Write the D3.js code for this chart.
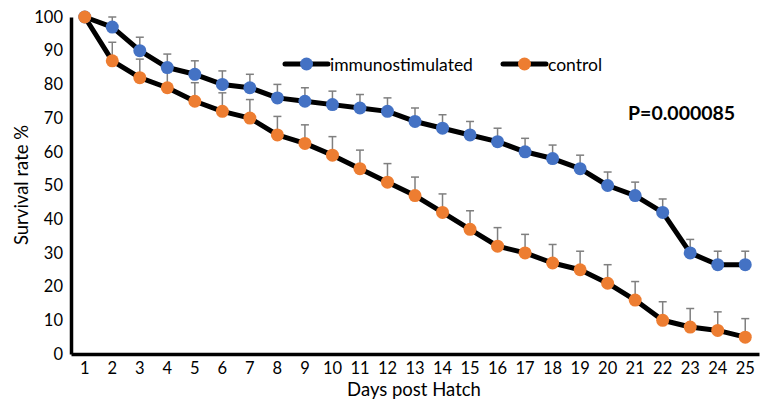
<!DOCTYPE html>
<html>
<head>
<meta charset="utf-8">
<script src="https://cdn.jsdelivr.net/npm/d3@7"></script>
<style>
  body { margin: 0; background: #fff; }
  text { font-family: Lato, "Open Sans", sans-serif; fill: #000; }
</style>
</head>
<body>
<script>
// data
var days = ["1","2","3","4","5","6","7","8","9","10","11","12","13","14","15","16","17","18","19","20","21","22","23","24","25"];
var immuno = [100, 97, 90, 85, 83, 80, 79, 76, 75, 74, 73, 72, 69, 67, 65, 63, 60, 58, 55, 50, 47, 42, 30, 26.5, 26.5];
var immunoErr = [0, 3, 4, 4, 4, 4, 4, 4, 4, 4, 4, 4, 4, 4, 4, 4, 4, 4, 4, 4, 4, 4, 4, 4, 4];
var control = [100, 87, 82, 79, 75, 72, 70, 65, 62.5, 59, 55, 51, 47, 42, 37, 32, 30, 27, 25, 21, 16, 10, 8, 7, 5];
var controlErr = [0, 5.5, 5.5, 5.5, 5.5, 5.5, 5.5, 5.5, 5.5, 5.5, 5.5, 5.5, 5.5, 5.5, 5.5, 5.5, 5.5, 5.5, 5.5, 5.5, 5.5, 5.5, 5.5, 5.5, 5.5];
var yTicks = [0, 10, 20, 30, 40, 50, 60, 70, 80, 90, 100];

var width = 762, height = 402;
var margin = { left: 71, right: 3, top: 17, bottom: 48 };

var svg = d3.select("body").append("svg")
            .attr("width", width)
            .attr("height", height);

var x = d3.scaleBand().domain(days).range([margin.left, width - margin.right]);
var y = d3.scaleLinear().domain([0, 100]).range([height - margin.bottom, margin.top]);

var series = [
    { name: "immunostimulated", values: immuno, err: immunoErr, color: "#4472C4" },
    { name: "control", values: control, err: controlErr, color: "#ED7D31" }
];

// axes
var yAxis = svg.append("g")
   .attr("transform", "translate(" + margin.left + ",0)")
   .call(d3.axisLeft(y).tickValues(yTicks).tickSize(0).tickPadding(8));
yAxis.select(".domain").attr("stroke", "#000").attr("stroke-width", 3.5);
yAxis.selectAll("text").attr("font-size", 16.5);

var xAxis = svg.append("g")
   .attr("transform", "translate(0," + y(0) + ")")
   .call(d3.axisBottom(x).tickSize(0).tickPadding(8));
xAxis.select(".domain").attr("stroke", "#000").attr("stroke-width", 3.5);
xAxis.selectAll("text").attr("font-size", 16.5);

// axis titles
svg.append("text")
   .attr("x", 414).attr("y", 396)
   .attr("text-anchor", "middle")
   .attr("font-size", 18.5)
   .text("Days post Hatch");

svg.append("text")
   .attr("transform", "translate(28,185) rotate(-90)")
   .attr("text-anchor", "middle")
   .attr("font-size", 18.5)
   .text("Survival rate %");

var cx = function(d, i) { return x(days[i]) + x.bandwidth() / 2; };

// error bars (upper only)
series.forEach(function(s) {
    var g = svg.append("g").classed("err", true);
    var data = s.values.map(function(v, i) { return { v: v, e: s.err[i], i: i }; })
                       .filter(function(d) { return d.e > 0; });
    g.selectAll("line.stem")
     .data(data).enter()
       .append("line")
       .attr("x1", function(d) { return cx(d, d.i); })
       .attr("x2", function(d) { return cx(d, d.i); })
       .attr("y1", function(d) { return y(d.v); })
       .attr("y2", function(d) { return y(d.v + d.e); })
       .attr("stroke", "#7f7f7f").attr("stroke-width", 1.5);
    g.selectAll("line.cap")
     .data(data).enter()
       .append("line")
       .attr("x1", function(d) { return cx(d, d.i) - 4; })
       .attr("x2", function(d) { return cx(d, d.i) + 4; })
       .attr("y1", function(d) { return y(d.v + d.e); })
       .attr("y2", function(d) { return y(d.v + d.e); })
       .attr("stroke", "#7f7f7f").attr("stroke-width", 1.5);
});

// lines then markers
var line = d3.line().x(cx).y(function(d) { return y(d); });
series.forEach(function(s) {
    svg.append("path")
       .datum(s.values)
       .attr("d", line)
       .attr("fill", "none")
       .attr("stroke", "#000")
       .attr("stroke-width", 5)
       .attr("stroke-linejoin", "round");
});
series.forEach(function(s) {
    svg.append("g").selectAll("circle")
       .data(s.values).enter()
         .append("circle")
         .attr("cx", cx)
         .attr("cy", function(d) { return y(d); })
         .attr("r", 6.5)
         .attr("fill", s.color);
});

// legend
var legendPos = [{ x: 285, tx: 330 }, { x: 503, tx: 548 }];
series.forEach(function(s, i) {
    var lg = svg.append("g").attr("transform", "translate(" + legendPos[i].x + ",64)");
    lg.append("line").attr("x1", 0).attr("x2", 43).attr("y1", 0).attr("y2", 0)
      .attr("stroke", "#000").attr("stroke-width", 5).attr("stroke-linecap", "round");
    lg.append("circle").attr("cx", 21.5).attr("cy", 0).attr("r", 6.5).attr("fill", s.color);
    svg.append("text")
       .attr("x", legendPos[i].tx).attr("y", 70.5)
       .attr("font-size", 17.5)
       .text(s.name);
});

svg.append("text")
   .attr("x", 628).attr("y", 120)
   .attr("font-size", 19.5)
   .attr("font-weight", "bold")
   .text("P=0.000085");
</script>
</body>
</html>
